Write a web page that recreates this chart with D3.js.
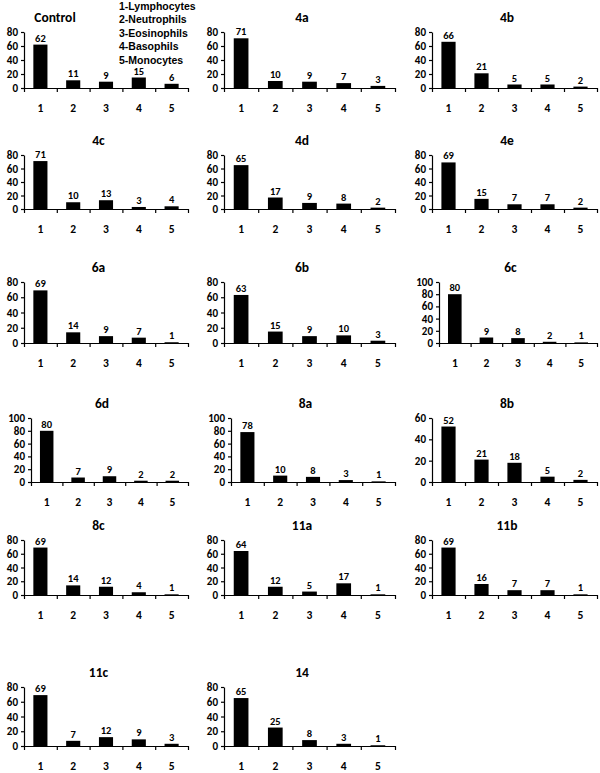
<!DOCTYPE html>
<html>
<head>
<meta charset="utf-8">
<script src="https://cdn.jsdelivr.net/npm/d3@7"></script>
<style>
  html, body { margin: 0; padding: 0; background: #fff; }
  svg { display: block; }
  .tick text { font-family: Carlito, Lato, "Open Sans", sans-serif; font-weight: bold; }
</style>
</head>
<body>
<div id="chart"></div>
<script>
// ---- data ----
const categories = ["1", "2", "3", "4", "5"];
const legendLabels = ["1-Lymphocytes", "2-Neutrophils", "3-Eosinophils", "4-Basophils", "5-Monocytes"];
const panelNames = ["Control", "4a", "4b", "4c", "4d", "4e", "6a", "6b", "6c", "6d", "8a", "8b", "8c", "11a", "11b", "11c", "14"];
const valsControl = [62, 11, 9, 15, 6];
const vals4a = [71, 10, 9, 7, 3];
const vals4b = [66, 21, 5, 5, 2];
const vals4c = [71, 10, 13, 3, 4];
const vals4d = [65, 17, 9, 8, 2];
const vals4e = [69, 15, 7, 7, 2];
const vals6a = [69, 14, 9, 7, 1];
const vals6b = [63, 15, 9, 10, 3];
const vals6c = [80, 9, 8, 2, 1];
const vals6d = [80, 7, 9, 2, 2];
const vals8a = [78, 10, 8, 3, 1];
const vals8b = [52, 21, 18, 5, 2];
const vals8c = [69, 14, 12, 4, 1];
const vals11a = [64, 12, 5, 17, 1];
const vals11b = [69, 16, 7, 7, 1];
const vals11c = [69, 7, 12, 9, 3];
const vals14 = [65, 25, 8, 3, 1];
const axisMax = [80, 80, 80, 80, 80, 80, 80, 80, 100, 100, 100, 60, 80, 80, 80, 80, 80];
const tickStep = 20;

const panelValues = [valsControl, vals4a, vals4b, vals4c, vals4d, vals4e, vals6a, vals6b, vals6c,
  vals6d, vals8a, vals8b, vals8c, vals11a, vals11b, vals11c, vals14];

// ---- layout ----
const W = 600, H = 773;
const colX0 = [24, 224, 432];
const colX1 = [188, 395, 597];
const rowTop = [32, 155, 282, 418, 540, 687];
const rowZero = [88, 209, 343, 482, 595, 746];
const FONT = "Carlito, Lato, 'Open Sans', sans-serif";

const svg = d3.select("#chart").append("svg")
  .attr("width", W).attr("height", H)
  .attr("viewBox", `0 0 ${W} ${H}`);
svg.append("rect").attr("width", W).attr("height", H).attr("fill", "#fff");

panelNames.forEach((name, i) => {
  const row = Math.floor(i / 3), col = i % 3;
  const vmax = axisMax[i];
  const x0 = colX0[col] + (vmax >= 100 ? 7 : 0);
  const x1 = colX1[col];
  const yTop = rowTop[row], yZero = rowZero[row];
  const g = svg.append("g");

  const x = d3.scaleBand().domain(categories).range([x0, x1])
    .paddingInner(0.57).paddingOuter(0.285);
  const y = d3.scaleLinear().domain([0, vmax]).range([yZero, yTop]);
  const xb = d3.scaleLinear().domain([0, categories.length]).range([x0, x1]);

  // y axis
  const ya = g.append("g").attr("transform", `translate(${x0},0)`)
    .call(d3.axisLeft(y).tickValues(d3.range(0, vmax + 1, tickStep))
      .tickSize(3).tickSizeOuter(0).tickPadding(3));
  ya.selectAll("text").attr("font-size", 11).attr("fill", "#000");
  ya.selectAll("line, path").attr("stroke", "#000").attr("stroke-width", 1.2);

  // x axis boundary ticks
  const xa = g.append("g").attr("transform", `translate(0,${yZero})`)
    .call(d3.axisBottom(xb).tickValues(d3.range(0, categories.length + 1))
      .tickFormat("").tickSize(4).tickSizeOuter(0));
  xa.selectAll("line, path").attr("stroke", "#000").attr("stroke-width", 1.2);

  // x category labels
  const xl = g.append("g").attr("transform", `translate(0,${yZero})`)
    .call(d3.axisBottom(x).tickSize(0).tickPadding(16));
  xl.select(".domain").remove();
  xl.selectAll("text").attr("font-size", 11.5).attr("fill", "#000");

  // bars
  const vals = panelValues[i];
  g.selectAll("rect.bar").data(vals).join("rect")
    .attr("class", "bar")
    .attr("x", (d, k) => x(categories[k]))
    .attr("width", x.bandwidth())
    .attr("y", d => y(d))
    .attr("height", d => yZero - y(d))
    .attr("fill", "#000");

  // value labels
  g.selectAll("text.val").data(vals).join("text")
    .attr("class", "val")
    .attr("x", (d, k) => x(categories[k]) + x.bandwidth() / 2)
    .attr("y", d => y(d) - 3)
    .attr("text-anchor", "middle")
    .attr("font-family", FONT).attr("font-weight", "bold").attr("font-size", 10.5)
    .attr("fill", "#000")
    .text(d => d);

  // title
  const tx = i === 0 ? 55 : (x0 - 15 + x1) / 2;
  g.append("text")
    .attr("x", tx).attr("y", yTop - 10)
    .attr("text-anchor", "middle")
    .attr("font-family", FONT).attr("font-weight", "bold").attr("font-size", 13.5)
    .attr("fill", "#000")
    .text(name);
});

// legend
svg.append("g").selectAll("text").data(legendLabels).join("text")
  .attr("x", 119)
  .attr("y", (d, k) => 9.5 + k * 13.6)
  .attr("font-family", "'Liberation Sans Narrow', 'Arial Narrow', 'Liberation Sans', sans-serif")
  .attr("font-weight", "bold").attr("font-size", 10.5)
  .attr("fill", "#000")
  .text(d => d);
</script>
</body>
</html>
